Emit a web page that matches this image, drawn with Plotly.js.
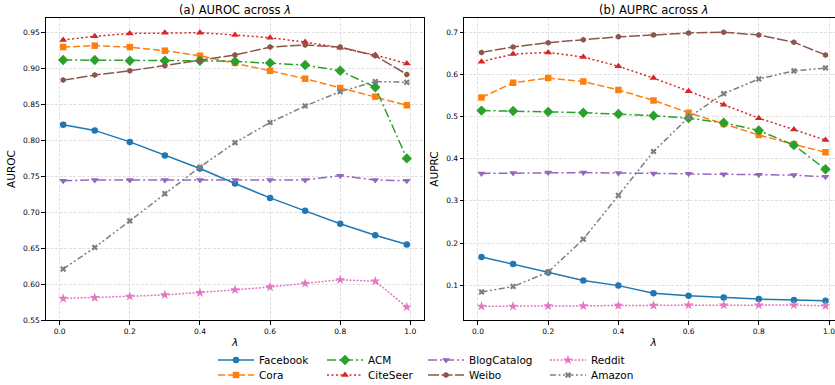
<!DOCTYPE html>
<html>
<head>
<meta charset="utf-8">
<script src="https://cdn.plot.ly/plotly-3.0.1.min.js"></script>
<style>
html,body{margin:0;padding:0;overflow:hidden;background:#fff;width:835px;height:385px;}
#chart{width:845px;height:385px;}
</style>
</head>
<body>
<div id="chart"></div>
<script>
const lambdas = [0.01, 0.1, 0.2, 0.3, 0.4, 0.5, 0.6, 0.7, 0.8, 0.9, 0.99];
const datasets = ["Facebook", "Cora", "ACM", "CiteSeer", "BlogCatalog", "Weibo", "Reddit", "Amazon"];

// AUROC values per dataset
const aurocFacebook    = [0.822, 0.814, 0.798, 0.779, 0.761, 0.740, 0.720, 0.702, 0.684, 0.668, 0.655];
const aurocCora        = [0.930, 0.932, 0.930, 0.925, 0.918, 0.908, 0.897, 0.886, 0.873, 0.861, 0.849];
const aurocACM         = [0.912, 0.912, 0.911, 0.911, 0.911, 0.910, 0.908, 0.905, 0.897, 0.874, 0.775];
const aurocCiteSeer    = [0.940, 0.945, 0.949, 0.950, 0.950, 0.947, 0.943, 0.937, 0.929, 0.919, 0.907];
const aurocBlogCatalog = [0.744, 0.745, 0.745, 0.745, 0.745, 0.745, 0.745, 0.745, 0.751, 0.745, 0.744];
const aurocWeibo       = [0.884, 0.891, 0.897, 0.904, 0.911, 0.919, 0.930, 0.933, 0.930, 0.918, 0.892];
const aurocReddit      = [0.580, 0.581, 0.583, 0.585, 0.588, 0.592, 0.596, 0.601, 0.606, 0.604, 0.568];
const aurocAmazon      = [0.621, 0.651, 0.688, 0.726, 0.763, 0.797, 0.825, 0.848, 0.868, 0.882, 0.881];

// AUPRC values per dataset
const auprcFacebook    = [0.167, 0.150, 0.130, 0.111, 0.099, 0.081, 0.075, 0.071, 0.067, 0.065, 0.063];
const auprcCora        = [0.545, 0.580, 0.591, 0.583, 0.563, 0.538, 0.509, 0.482, 0.456, 0.434, 0.415];
const auprcACM         = [0.514, 0.513, 0.511, 0.509, 0.506, 0.502, 0.496, 0.485, 0.467, 0.432, 0.375];
const auprcCiteSeer    = [0.630, 0.648, 0.652, 0.641, 0.619, 0.591, 0.560, 0.528, 0.496, 0.469, 0.444];
const auprcBlogCatalog = [0.365, 0.366, 0.367, 0.367, 0.366, 0.365, 0.364, 0.363, 0.362, 0.361, 0.357];
const auprcWeibo       = [0.652, 0.665, 0.675, 0.682, 0.689, 0.693, 0.698, 0.700, 0.693, 0.676, 0.646];
const auprcReddit      = [0.050, 0.050, 0.051, 0.051, 0.052, 0.052, 0.053, 0.053, 0.053, 0.053, 0.051];
const auprcAmazon      = [0.084, 0.097, 0.131, 0.209, 0.313, 0.417, 0.498, 0.554, 0.589, 0.608, 0.615];

const aurocAll = [aurocFacebook, aurocCora, aurocACM, aurocCiteSeer, aurocBlogCatalog, aurocWeibo, aurocReddit, aurocAmazon];
const auprcAll = [auprcFacebook, auprcCora, auprcACM, auprcCiteSeer, auprcBlogCatalog, auprcWeibo, auprcReddit, auprcAmazon];

const xTicks = [0.0, 0.2, 0.4, 0.6, 0.8, 1.0];
const aurocTicks = [0.55, 0.60, 0.65, 0.70, 0.75, 0.80, 0.85, 0.90, 0.95];
const auprcTicks = [0.1, 0.2, 0.3, 0.4, 0.5, 0.6, 0.7];

const styles = [
  {color:'#1f77b4', dash:'solid', symbol:'circle', size:6.5},
  {color:'#ff7f0e', dash:'7px,3px', symbol:'square', size:6.5},
  {color:'#2ca02c', dash:'9px,3px,2px,3px', symbol:'diamond', size:8},
  {color:'#d62728', dash:'2px,2.5px', symbol:'triangle-up', size:7},
  {color:'#9467bd', dash:'9px,3px,2px,3px', symbol:'triangle-down', size:7},
  {color:'#8c564b', dash:'11px,2.5px', symbol:'hexagon', size:6},
  {color:'#e377c2', dash:'2px,1.5px', symbol:'star', size:7.5},
  {color:'#7f7f7f', dash:'6px,2.5px,2px,2.5px,2px,2.5px', symbol:'x', size:5.5}
];

const W = 845, H = 385;
// legend slot per dataset: column line-start pixel, row center pixel
const legCols = [218, 218, 327, 327, 428, 428, 550, 550];
const legRows = [360, 375, 360, 375, 360, 375, 360, 375];

const traces = [];
datasets.forEach((name, i) => {
  const st = styles[i];
  traces.push({
    x: lambdas, y: aurocAll[i], name: name, type:'scatter', mode:'lines+markers',
    xaxis:'x', yaxis:'y', legend: i === 0 ? 'legend' : 'legend' + (i + 1), legendgroup: name,
    line:{color:st.color, dash:st.dash, width:1.5},
    marker:{color:st.color, symbol:st.symbol, size:st.size, line:{width:0}}
  });
});
datasets.forEach((name, i) => {
  const st = styles[i];
  traces.push({
    x: lambdas, y: auprcAll[i], name: name, type:'scatter', mode:'lines+markers',
    xaxis:'x2', yaxis:'y2', showlegend:false, legendgroup: name,
    line:{color:st.color, dash:st.dash, width:1.5},
    marker:{color:st.color, symbol:st.symbol, size:st.size, line:{width:0}}
  });
});

const fnt = 'DejaVu Sans, sans-serif';
const axBase = {
  showline:true, mirror:true, linecolor:'#000', linewidth:1.2,
  ticks:'outside', ticklen:3.5, tickwidth:1, tickcolor:'#000',
  showgrid:true, gridcolor:'#d9d9d9', griddash:'3px,1.5px', gridwidth:0.8,
  zeroline:false, tickfont:{family:fnt, size:7.5, color:'#000'}, automargin:false
};
const yDom = [(H-320)/H, (H-18)/H];

const layout = {
  width: W, height: H,
  margin:{l:0, r:0, t:0, b:0, autoexpand:false},
  paper_bgcolor:'#fff', plot_bgcolor:'#fff',
  font:{family:fnt, color:'#000'},
  xaxis: Object.assign({}, axBase, {domain:[46/W, 424/W], range:[-0.039, 1.039], tickvals:xTicks, tickformat:'.1f', anchor:'y',
    title:{text:'<i>λ</i>', font:{family:fnt, size:10.5}, standoff:4}}),
  yaxis: Object.assign({}, axBase, {domain:yDom, range:[0.55, 0.9705], tickvals:aurocTicks, tickformat:'.2f', anchor:'x',
    title:{text:'AUROC', font:{family:fnt, size:10.5}, standoff:5}}),
  xaxis2: Object.assign({}, axBase, {domain:[464.3/W, 842.7/W], range:[-0.039, 1.039], tickvals:xTicks, tickformat:'.1f', anchor:'y2',
    title:{text:'<i>λ</i>', font:{family:fnt, size:10.5}, standoff:4}}),
  yaxis2: Object.assign({}, axBase, {domain:yDom, range:[0.0175, 0.7335], tickvals:auprcTicks, tickformat:'.1f', anchor:'x2',
    title:{text:'AUPRC', font:{family:fnt, size:10.5}, standoff:5}}),
  annotations:[
    {text:'(a) AUROC across <i>λ</i>', x:235/W, y:(H-10)/H, xref:'paper', yref:'paper', showarrow:false,
     font:{family:fnt, size:11.5}, xanchor:'center', yanchor:'middle'},
    {text:'(b) AUPRC across <i>λ</i>', x:653.5/W, y:(H-10)/H, xref:'paper', yref:'paper', showarrow:false,
     font:{family:fnt, size:11.5}, xanchor:'center', yanchor:'middle'}
  ]
};
datasets.forEach((name, i) => {
  const key = i === 0 ? 'legend' : 'legend' + (i + 1);
  layout[key] = {orientation:'v', xanchor:'left', yanchor:'top', font:{family:fnt, size:10.5, color:'#000'},
    bgcolor:'rgba(0,0,0,0)', borderwidth:0, itemwidth:36,
    x:(legCols[i] - 5)/W, y:(H - (legRows[i] - 14.5))/H};
});

Plotly.newPlot('chart', traces, layout, {displayModeBar:false, staticPlot:true});
</script>
</body>
</html>
